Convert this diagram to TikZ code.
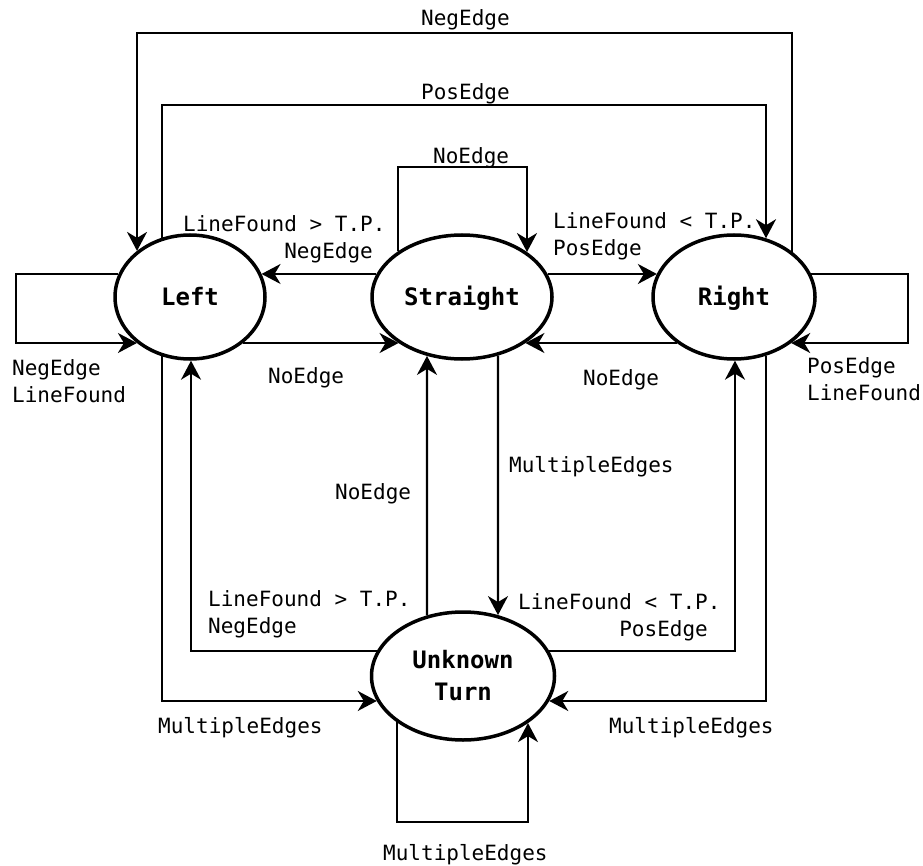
\documentclass[tikz,border=0pt]{standalone}
\usepackage{fontspec}
\newfontfamily\monofont{DejaVu Sans Mono}
\usetikzlibrary{arrows.meta,intersections,shapes.geometric}

% border point of ellipse path #1 on the straight probe #2 -- #3, named #4
\newcommand\meet[4]{%
  \path[name path=probe] #2 -- #3;
  \path[name intersections={of=#1 and probe, by={#4}}];}

\begin{document}
\begin{tikzpicture}[x=1pt,y=-1pt,
  state/.style={ellipse, draw, line width=3.5pt, fill=white, inner sep=0pt,
    outer sep=0pt, align=center,
    font=\monofont\bfseries\fontsize{24}{32}\selectfont},
  oneline/.style={text height=18pt, text depth=0pt},
  conn/.style={line width=2.1pt, -{Stealth[length=19pt,width=20pt,inset=6pt]}},
  lbl/.style={inner sep=0pt, anchor=north west,
    font=\monofont\fontsize{21}{27}\selectfont},
]
\fill[white] (0,0) rectangle (923,866);
\useasboundingbox (0,0) rectangle (923,866);

% states
\node[state, oneline, minimum width=150pt, minimum height=124pt] (L) at (190,297) {Left};
\node[state, oneline, minimum width=180pt, minimum height=124pt] (S) at (462,297) {Straight};
\node[state, oneline, minimum width=162pt, minimum height=124pt] (R) at (734,297) {Right};
\node[state, minimum width=183pt, minimum height=128pt] (U) at (463,676) {Unknown\\Turn};

% outer edges of the state outlines, where the connectors stop
\path[name path=Lb] (L.center) ellipse [x radius=76.7, y radius=63.7];
\path[name path=Sb] (S.center) ellipse [x radius=91.7, y radius=63.7];
\path[name path=Rb] (R.center) ellipse [x radius=82.7, y radius=63.7];
\path[name path=Ub] (U.center) ellipse [x radius=93.2, y radius=65.7];

\meet{Rb}{(792,200)}{(792,297)}{r1}
\meet{Lb}{(137,200)}{(137,297)}{l1}
\meet{Lb}{(162,200)}{(162,297)}{l2}
\meet{Rb}{(766,200)}{(766,297)}{r2}
\meet{Sb}{(398,200)}{(398,297)}{s3a}
\meet{Sb}{(527,200)}{(527,297)}{s3b}
\meet{Sb}{(300,274)}{(462,274)}{s4}
\meet{Lb}{(300,274)}{(190,274)}{l4}
\meet{Sb}{(600,274)}{(462,274)}{s5}
\meet{Rb}{(600,274)}{(734,274)}{r5}
\meet{Lb}{(0,274)}{(190,274)}{l6a}
\meet{Lb}{(0,343)}{(190,343)}{l6b}
\meet{Lb}{(300,343)}{(190,343)}{l7}
\meet{Sb}{(300,343)}{(462,343)}{s7}
\meet{Rb}{(600,343)}{(734,343)}{r8}
\meet{Sb}{(600,343)}{(462,343)}{s8}
\meet{Rb}{(923,274)}{(734,274)}{r9a}
\meet{Rb}{(923,343)}{(734,343)}{r9b}
\meet{Ub}{(300,651)}{(463,651)}{u10}
\meet{Lb}{(191,500)}{(191,297)}{l10}
\meet{Ub}{(427,500)}{(427,676)}{u11}
\meet{Sb}{(427,500)}{(427,297)}{s11}
\meet{Sb}{(498,500)}{(498,297)}{s12}
\meet{Ub}{(498,500)}{(498,676)}{u12}
\meet{Ub}{(650,651)}{(463,651)}{u13}
\meet{Rb}{(735,500)}{(735,297)}{r13}
\meet{Lb}{(162,500)}{(162,297)}{l14}
\meet{Ub}{(300,701)}{(463,701)}{u14}
\meet{Rb}{(766,500)}{(766,297)}{r15}
\meet{Ub}{(650,701)}{(463,701)}{u15}
\meet{Ub}{(397,866)}{(397,676)}{u16a}
\meet{Ub}{(528,866)}{(528,676)}{u16b}

% transitions
\draw[conn] (r1) -- (r1 |- 0,33) -| (l1);
\draw[conn] (l2) -- (l2 |- 0,105) -| (r2);
\draw[conn] (s3a) -- (s3a |- 0,167) -| (s3b);
\draw[conn] (s4) -- (l4);
\draw[conn] (s5) -- (r5);
\draw[conn] (l6a) -- (l6a -| 16,0) |- (l6b);
\draw[conn] (l7) -- (s7);
\draw[conn] (r8) -- (s8);
\draw[conn] (r9a) -- (r9a -| 908,0) |- (r9b);
\draw[conn] (u10) -| (l10);
\draw[conn] (u11) -- (s11);
\draw[conn] (s12) -- (u12);
\draw[conn] (u13) -| (r13);
\draw[conn] (l14) |- (u14);
\draw[conn] (r15) |- (u15);
\draw[conn] (u16a) -- (u16a |- 0,822) -| (u16b);

% transition labels
\node[lbl] at (421,9) {NegEdge};
\node[lbl] at (421,83) {PosEdge};
\node[lbl] at (433,147) {NoEdge};
\node[lbl, align=right] at (183,215) {LineFound > T.P.\\NegEdge\hphantom{.}};
\node[lbl, align=left] at (553,212) {LineFound < T.P.\\PosEdge};
\node[lbl, align=left] at (12,359) {NegEdge\\LineFound};
\node[lbl] at (268,367) {NoEdge};
\node[lbl] at (583,369) {NoEdge};
\node[lbl, align=left] at (807,357) {PosEdge\\LineFound};
\node[lbl] at (335,483) {NoEdge};
\node[lbl] at (509,456) {MultipleEdges};
\node[lbl, align=left] at (208,590) {LineFound > T.P.\\NegEdge};
\node[lbl, align=right] at (518,593) {LineFound < T.P.\\PosEdge\hphantom{.}};
\node[lbl] at (158,717) {MultipleEdges};
\node[lbl] at (609,717) {MultipleEdges};
\node[lbl] at (383,844) {MultipleEdges};
\end{tikzpicture}
\end{document}
